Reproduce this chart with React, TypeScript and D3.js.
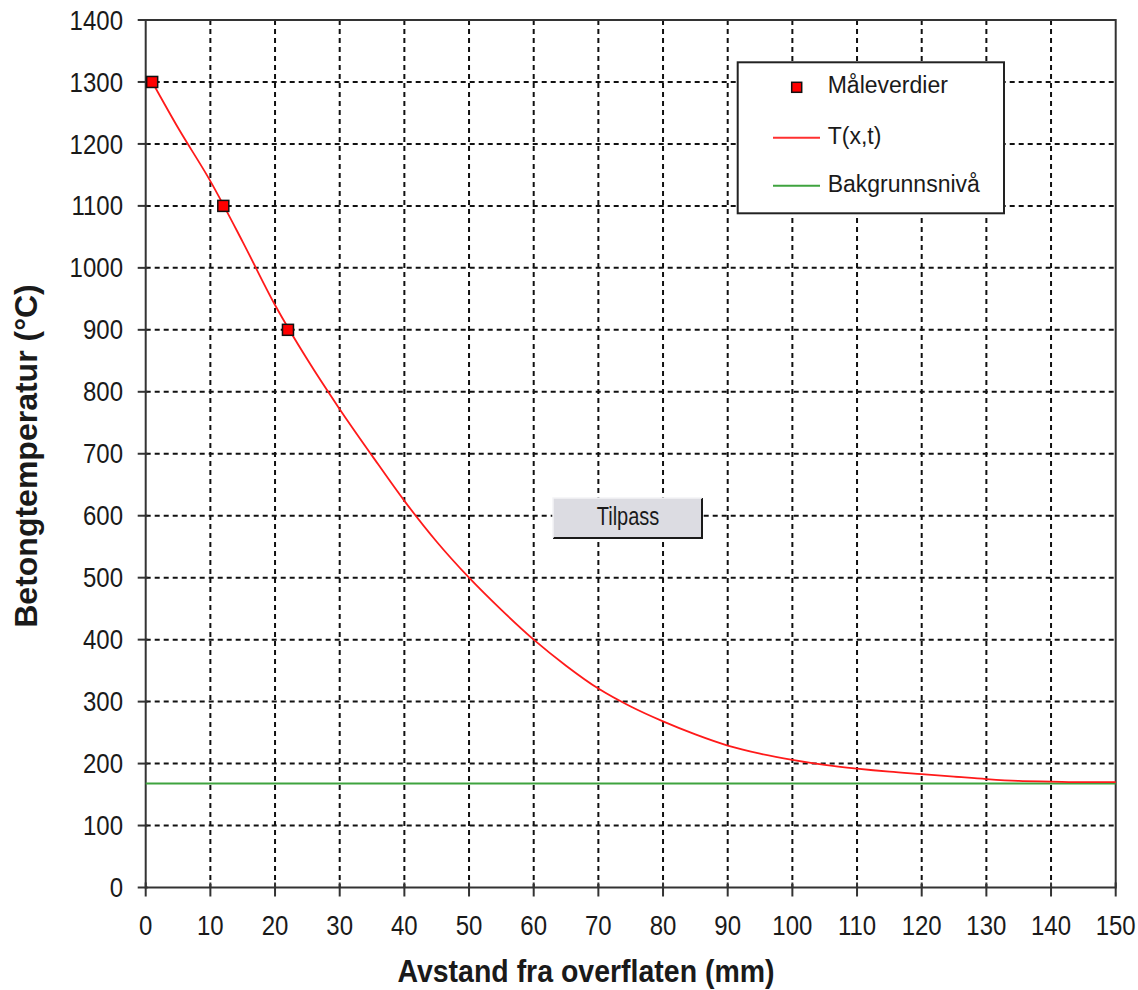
import React, { useRef, useEffect } from "react";
import * as d3 from "d3";

// measured points (mm, °C)
const measX = [1, 12, 22];
const measT = [1300, 1100, 900];

// fitted curve T(x,t)
const curveX = [1, 5, 10, 15, 20, 25, 30, 35, 40, 45, 50, 55, 60, 65, 70, 75, 80, 85, 90, 95, 100, 105, 110, 115, 120, 125, 130, 135, 140, 145, 150];
const curveT = [1300, 1226, 1140, 1042, 940, 852, 772, 697, 624, 558, 500, 448, 400, 358, 321, 292, 268, 247, 229, 216, 206, 198, 192, 187, 183, 179, 175, 172, 171, 170, 170];

const background = 168;

const xTicks = [0, 10, 20, 30, 40, 50, 60, 70, 80, 90, 100, 110, 120, 130, 140, 150];
const yTicks = [0, 100, 200, 300, 400, 500, 600, 700, 800, 900, 1000, 1100, 1200, 1300, 1400];

const legendItems = ["Måleverdier", "T(x,t)", "Bakgrunnsnivå"];

const FONT = "'Liberation Sans', Arial, sans-serif";

const Chart = () => {
  const ref = useRef<SVGSVGElement>(null);

  useEffect(() => {
    const svg = d3.select(ref.current);
    svg.selectAll("*").remove();

    const x = d3.scaleLinear().domain([0, 150]).range([145.7, 1115.7]);
    const y = d3.scaleLinear().domain([0, 1400]).range([887.5, 20]);

    const label = (
      g: any,
      px: number,
      py: number,
      txt: string,
      size: number,
      anchor: string,
      sy = 1,
      weight = "normal"
    ) =>
      g
        .append("text")
        .attr("transform", `translate(${px},${py}) scale(1,${sy})`)
        .attr("text-anchor", anchor)
        .style("font-family", FONT)
        .style("font-size", `${size}px`)
        .style("font-weight", weight)
        .attr("fill", "#1a1a1a")
        .text(txt);

    svg.append("rect").attr("width", 1138).attr("height", 990).attr("fill", "#fff");

    // grid
    const grid = svg.append("g").attr("stroke", "#111").attr("stroke-width", 2).attr("stroke-dasharray", "5,4");
    xTicks.slice(1, -1).forEach((d) => {
      grid.append("line").attr("x1", x(d)).attr("x2", x(d)).attr("y1", y(1400)).attr("y2", y(0));
    });
    yTicks.slice(1, -1).forEach((d) => {
      grid.append("line").attr("x1", x(0)).attr("x2", x(150)).attr("y1", y(d)).attr("y2", y(d));
    });

    // frame + axes
    const ax = svg.append("g").attr("stroke", "#333").attr("stroke-width", 2).attr("fill", "none");
    ax.append("rect")
      .attr("x", x(0))
      .attr("y", y(1400))
      .attr("width", x(150) - x(0))
      .attr("height", y(0) - y(1400));
    yTicks.forEach((d) => {
      ax.append("line").attr("x1", x(0) - 8).attr("x2", x(0) + 2).attr("y1", y(d)).attr("y2", y(d));
      label(svg, 123, y(d) + 9.6, String(d), 24, "end", 1.12);
    });
    xTicks.forEach((d) => {
      ax.append("line").attr("x1", x(d)).attr("x2", x(d)).attr("y1", y(0) - 5).attr("y2", y(0) + 9);
      label(svg, x(d), 935, String(d), 24, "middle", 1.12);
    });

    // background level
    svg.append("line")
      .attr("x1", x(0))
      .attr("x2", x(150))
      .attr("y1", y(background))
      .attr("y2", y(background))
      .attr("stroke", "#3fa33f")
      .attr("stroke-width", 2);

    // curve
    const line = d3
      .line<number>()
      .x((d, i) => x(curveX[i]))
      .y((d) => y(d))
      .curve(d3.curveMonotoneX);
    svg.append("path")
      .attr("d", line(curveT))
      .attr("fill", "none")
      .attr("stroke", "#ff1a1a")
      .attr("stroke-width", 1.8);

    // measured points
    measT.forEach((t, i) => {
      svg.append("rect")
        .attr("x", x(measX[i]) - 5.5)
        .attr("y", y(t) - 5.5)
        .attr("width", 11)
        .attr("height", 11)
        .attr("fill", "#ff0000")
        .attr("stroke", "#111")
        .attr("stroke-width", 1.5);
    });

    // legend
    const lg = svg.append("g");
    lg.append("rect")
      .attr("x", 737.7)
      .attr("y", 62.3)
      .attr("width", 266.3)
      .attr("height", 151)
      .attr("fill", "#fff")
      .attr("stroke", "#222")
      .attr("stroke-width", 2);
    lg.append("rect")
      .attr("x", 791.7)
      .attr("y", 82.3)
      .attr("width", 10)
      .attr("height", 10)
      .attr("fill", "#ff0000")
      .attr("stroke", "#111")
      .attr("stroke-width", 1.5);
    lg.append("line").attr("x1", 773).attr("x2", 820).attr("y1", 137.7).attr("y2", 137.7).attr("stroke", "#ff3030").attr("stroke-width", 2);
    lg.append("line").attr("x1", 773).attr("x2", 820).attr("y1", 185.7).attr("y2", 185.7).attr("stroke", "#3fa33f").attr("stroke-width", 2);
    label(lg, 827.7, 93.3, legendItems[0], 23, "start");
    label(lg, 827.7, 143.5, legendItems[1], 23, "start");
    label(lg, 827.7, 191.5, legendItems[2], 23, "start");

    // button
    const b = svg.append("g");
    b.append("rect").attr("x", 553).attr("y", 498).attr("width", 149).attr("height", 40).attr("fill", "#dcdce2");
    b.append("path")
      .attr("d", "M553,538 L702,538 L702,498")
      .attr("fill", "none")
      .attr("stroke", "#1a1a1a")
      .attr("stroke-width", 2);
    b.append("path")
      .attr("d", "M553,538 L553,498 L702,498")
      .attr("fill", "none")
      .attr("stroke", "#f4f4f6")
      .attr("stroke-width", 1.5);
    label(b, 628, 525, "Tilpass", 20, "middle", 1.25);

    // axis titles
    label(svg, 586, 982, "Avstand fra overflaten (mm)", 28.5, "middle", 1.1, "bold");
    svg.append("text")
      .attr("transform", "translate(37,456) rotate(-90)")
      .attr("text-anchor", "middle")
      .style("font-family", FONT)
      .style("font-size", "32px")
      .style("font-weight", "bold")
      .attr("fill", "#1a1a1a")
      .text("Betongtemperatur (°C)");
  }, []);

  return (
    <svg
      ref={ref}
      width={1138}
      height={990}
      style={{ position: "absolute", left: 0, top: 0, display: "block" }}
    ></svg>
  );
};

export default function App() {
  return <Chart />;
}
